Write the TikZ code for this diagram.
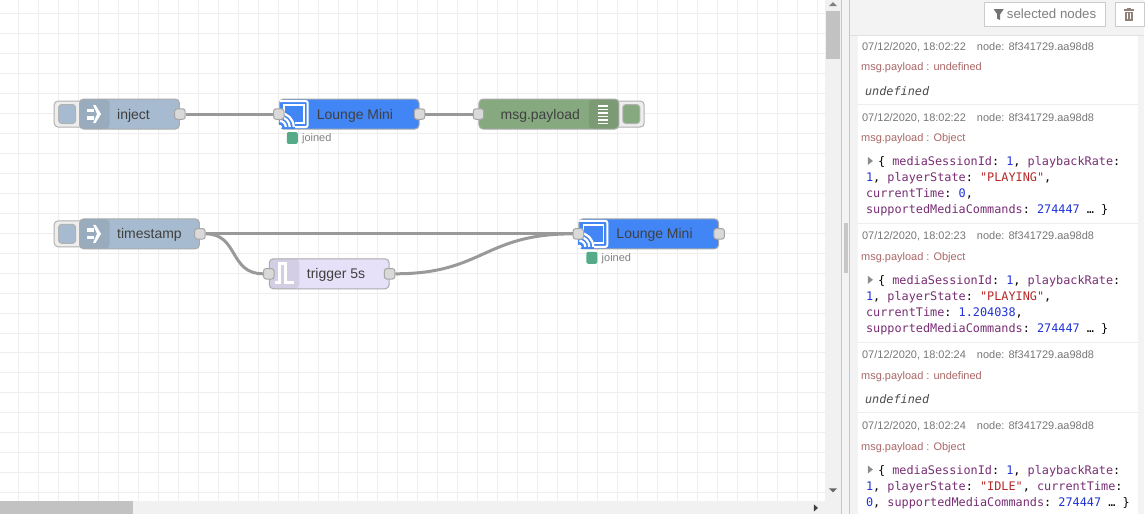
\documentclass[tikz,border=0pt]{standalone}
\usepackage{fontspec}
\setmainfont{Liberation Sans}
\setmonofont{DejaVu Sans Mono}
\usepackage{tikz}
\usetikzlibrary{positioning}

\definecolor{gridline}{HTML}{EEEEEE}
\definecolor{wirecol}{HTML}{999999}
\definecolor{injectcol}{HTML}{A6BBCF}
\definecolor{castcol}{HTML}{4285F4}
\definecolor{debugcol}{HTML}{87A980}
\definecolor{triggercol}{HTML}{E6E0F8}
\definecolor{portcol}{HTML}{D9D9D9}
\definecolor{btncol}{HTML}{EEEEEE}
\definecolor{panelcol}{HTML}{F3F3F3}
\definecolor{statuscol}{HTML}{55AA88}
\definecolor{metacol}{HTML}{777777}
\definecolor{propcol}{HTML}{AA6666}
\definecolor{trashcol}{HTML}{8F8178}
\definecolor{jsonkey}{HTML}{792E75}
\definecolor{jsonnum}{HTML}{2033D6}
\definecolor{jsonstr}{HTML}{B72828}

\newcommand{\jkey}[1]{\textcolor{jsonkey}{#1}}
\newcommand{\jnum}[1]{\textcolor{jsonnum}{#1}}
\newcommand{\jstr}[1]{\textcolor{jsonstr}{#1}}

\begin{document}
\begin{tikzpicture}[x=1pt,y=-1pt]
\tikzstyle{flow}=[rectangle,rounded corners=4pt,draw=black!33,line width=1pt,
inner sep=0pt,minimum height=30pt,anchor=west]
\tikzstyle{shadeleft}=[path picture={\fill[black,opacity=.08]
(path picture bounding box.north west) rectangle ++(30,30);}]
\tikzstyle{shaderight}=[path picture={\fill[black,opacity=.08]
(path picture bounding box.north east) rectangle ++(-30,30);}]
\tikzstyle{flowtext}=[inner sep=0pt,anchor=west,text height=10pt,text depth=2pt,yshift=-1pt,
text=black!75,font=\fontsize{14}{16}\selectfont]
\tikzstyle{port}=[rectangle,rounded corners=2.5pt,draw=black!35,fill=portcol,
line width=1pt,inner sep=0pt,minimum size=10.5pt]
\tikzstyle{wire}=[draw=wirecol,line width=3pt]
\tikzstyle{btn}=[rectangle,rounded corners=4pt,draw=black!30,fill=btncol,line width=1pt,
inner sep=0pt,minimum width=30pt,minimum height=26pt]
\tikzstyle{btninner}=[rectangle,rounded corners=3pt,draw=black!30,line width=1pt,
inner sep=0pt,minimum width=17pt,minimum height=19pt]
\tikzstyle{status}=[rectangle,rounded corners=2pt,fill=statuscol,inner sep=0pt,
minimum width=11pt,minimum height=12pt]
\tikzstyle{statustext}=[inner sep=0pt,anchor=west,yshift=-1pt,text=black!50,font=\fontsize{11}{13}\selectfont]
\tikzstyle{meta}=[inner sep=0pt,anchor=base west,xshift=1pt,yshift=-1pt,text=metacol,font=\fontsize{11}{13}\selectfont]
\tikzstyle{prop}=[inner sep=0pt,anchor=base west,xshift=1pt,yshift=-1pt,text=propcol,font=\fontsize{11}{13}\selectfont]
\tikzstyle{jsonline}=[inner sep=0pt,anchor=base west,xshift=1pt,yshift=-1pt,font=\fontsize{11.85}{14}\ttfamily]
\tikzstyle{toolbtn}=[rectangle,draw=black!20,fill=white,line width=1pt,inner sep=0pt,
minimum height=24pt,anchor=west]
\tikzset{
injecticon/.pic={
\fill[white] (-7,-5.5) rectangle (0,-2);
\fill[white] (-7,2) rectangle (0,5.5);
\fill[white] (-1,-9) -- (1.5,-9) -- (7,0) -- (1.5,9) -- (-1,9) -- (3,0) -- cycle;
},
casticon/.pic={
\draw[white,line width=2pt,rounded corners=2pt] (1,-13) -- (29,-13) -- (29,13) -- (0,13);
\draw[white,line width=1.6pt] (5,-9) rectangle (25,9);
\fill[castcol] (0,-1) rectangle (16,15);
\draw[white,line width=1.6pt] (5,-3) -- (5,-9);
\foreach \rad in {6,10,14}
\draw[white,line width=2.2pt] (1,13)+(0:\rad) arc[start angle=0,end angle=-90,radius=\rad];
\fill[white] (1,13) circle (2.2);
}}

% workspace
\fill[white] (0,0) rectangle (826,502);
\foreach \gx in {18,38,...,818}
\draw[gridline] (\gx,0) -- (\gx,502);
\foreach \gy in {13,33,...,493}
\draw[gridline] (0,\gy) -- (826,\gy);

% scrollbars
\fill[btncol!80!white] (826,0) rectangle (842,515);
\fill[btncol!80!white] (0,502) rectangle (826,515);
\fill[black!24] (827,11) rectangle (841,59);
\fill[black!24] (0,502) rectangle (133,515);
\fill[black!50] (830,6) -- (834,2) -- (838,6) -- cycle;
\fill[black!60] (830,489) -- (834,493) -- (838,489) -- cycle;
\fill[black!75] (815,505) -- (819,508.5) -- (815,512) -- cycle;

% panel on the right
\fill[panelcol] (842,0) rectangle (1145,515);
\draw[black!22] (842.5,0) -- (842.5,515);
\draw[black!22] (850.5,0) -- (850.5,515);
\fill[black!22] (845,223) rectangle (849,273);
\draw[black!12] (851,35.5) -- (1145,35.5);
\fill[white] (859,36) rectangle (1139,515);
\foreach \sy in {104.5,223.5,342.5,412.5}
\draw[gridline] (859,\sy) -- (1139,\sy);

\node[toolbtn,minimum width=121pt] (filter btn) at (985.5,14) {};
\node[toolbtn,minimum width=29pt] (clear btn) at (1116.5,14) {};
\node[inner sep=0pt,anchor=west,text=black!50,font=\fontsize{13.3}{15}\selectfont]
(filter text) at (1008,14) {selected nodes};
\fill[black!55] (995,9) -- (1005,9) -- (1001.5,14) -- (1001.5,20) -- (998.5,18.5) -- (998.5,14) -- cycle;
\fill[trashcol] (1125.5,9) rectangle (1135,10.5);
\fill[trashcol] (1128.5,7.5) rectangle (1132,9);
\fill[trashcol] (1126.5,11.5) -- (1134,11.5) -- (1134,20.5) -- (1126.5,20.5) -- cycle;
\draw[white,line width=.5pt] (1129,13) -- (1129,19) (1131.5,13) -- (1131.5,19);

% debug messages
\foreach \ybase/\stamp in {49/22,120/22,239/23,358/24,429/24}{
\node[meta] (stamp \ybase) at (862,\ybase) {07/12/2020, 18:02:\stamp};
\node[meta] (source \ybase) at (977,\ybase) {node: 8f341729.aa98d8};
}
\node[prop] (prop a) at (861,69) {msg.payload : undefined};
\node[prop] (prop b) at (861,141) {msg.payload : Object};
\node[prop] (prop c) at (861,260) {msg.payload : Object};
\node[prop] (prop d) at (861,379) {msg.payload : undefined};
\node[prop] (prop e) at (861,450) {msg.payload : Object};
\node[jsonline,text=black!70] (undef a) at (865,94) {\itshape undefined};
\node[jsonline,text=black!70] (undef b) at (865,403) {\itshape undefined};

\foreach \ybase in {166,285,475}
\fill[black!45] (869,\ybase-9) -- (874,\ybase-5) -- (869,\ybase-1) -- cycle;

\node[jsonline] (first a) at (878,165) {\{ \jkey{mediaSessionId}: \jnum{1}, \jkey{playbackRate}:};
\node[jsonline] (second a) at (866,181) {\jnum{1}, \jkey{playerState}: \jstr{"PLAYING"},};
\node[jsonline] (third a) at (866,197) {\jkey{currentTime}: \jnum{0},};
\node[jsonline] (fourth a) at (866,213) {\jkey{supportedMediaCommands}: \jnum{274447} … \}};
\node[jsonline] (first b) at (878,284) {\{ \jkey{mediaSessionId}: \jnum{1}, \jkey{playbackRate}:};
\node[jsonline] (second b) at (866,300) {\jnum{1}, \jkey{playerState}: \jstr{"PLAYING"},};
\node[jsonline] (third b) at (866,316) {\jkey{currentTime}: \jnum{1.204038},};
\node[jsonline] (fourth b) at (866,332) {\jkey{supportedMediaCommands}: \jnum{274447} … \}};
\node[jsonline] (first c) at (878,474) {\{ \jkey{mediaSessionId}: \jnum{1}, \jkey{playbackRate}:};
\node[jsonline] (second c) at (866,490) {\jnum{1}, \jkey{playerState}: \jstr{"IDLE"}, \jkey{currentTime}:};
\node[jsonline] (third c) at (866,506) {\jnum{0}, \jkey{supportedMediaCommands}: \jnum{274447} … \}};

% flow nodes
\node[btn] (inject button) at (69,114) {};
\node[btninner,fill=injectcol] (inject inner) at (67,114) {};
\node[btn] (timestamp button) at (69,234) {};
\node[btninner,fill=injectcol] (timestamp inner) at (67,234) {};
\node[btn] (debug button) at (630,114) {};
\node[btninner,fill=debugcol] (debug inner) at (632,114) {};

\node[flow,fill=injectcol,shadeleft,minimum width=100pt] (inject) at (79,114) {};
\node[flow,fill=castcol,minimum width=140pt] (lounge a) at (279,114) {};
\node[flow,fill=debugcol,shaderight,minimum width=140pt] (debug) at (479,114) {};
\node[flow,fill=injectcol,shadeleft,minimum width=120pt] (timestamp) at (79,234) {};
\node[flow,fill=triggercol,shadeleft,minimum width=120pt] (trigger) at (269,274) {};
\node[flow,fill=castcol,minimum width=140pt] (lounge b) at (579,234) {};

\node[flowtext] (inject text) [right=38pt of inject.west] {inject};
\node[flowtext] (lounge a text) [right=38pt of lounge a.west] {Lounge Mini};
\node[flowtext] (debug text) [right=22pt of debug.west] {msg.payload};
\node[flowtext] (timestamp text) [right=38pt of timestamp.west] {timestamp};
\node[flowtext] (trigger text) [right=38pt of trigger.west] {trigger 5s};
\node[flowtext] (lounge b text) [right=38pt of lounge b.west] {Lounge Mini};

% icons
\pic at (94,114) {injecticon};
\pic at (94,234) {injecticon};
\pic at (279,114) {casticon};
\pic at (579,234) {casticon};
\draw[white,line width=2.8pt] (275,283) -- (280,283) -- (280,264) -- (286,264) -- (286,283) -- (294,283);
\foreach \by in {106,109.5,113,116.5,120,123.5}
\fill[white] (599,\by-0.8) rectangle (609,\by+0.8);

% wires
\node[port] (inject out) at (inject.east) {};
\node[port] (lounge a in) at (lounge a.west) {};
\node[port] (lounge a out) at (lounge a.east) {};
\node[port] (debug in) at (debug.west) {};
\node[port] (timestamp out) at (timestamp.east) {};
\node[port] (trigger in) at (trigger.west) {};
\node[port] (trigger out) at (trigger.east) {};
\node[port] (lounge b in) at (lounge b.west) {};
\node[port] (lounge b out) at (lounge b.east) {};
\draw[wire] (inject out) to (lounge a in);
\draw[wire] (lounge a out) to (debug in);
\draw[wire] (timestamp out) to (lounge b in);
\draw[wire] (timestamp out) .. controls (239,234) and (229,274) .. (trigger in);
\draw[wire] (trigger out) .. controls (484,274) and (484,234) .. (lounge b in);

% status
\node[status] (status a) at (292.5,138) {};
\node[statustext] (status a text) [right=4pt of status a] {joined};
\node[status] (status b) at (592.5,258) {};
\node[statustext] (status b text) [right=4pt of status b] {joined};

\useasboundingbox (0,0) rectangle (1145,515);
\end{tikzpicture}
\end{document}
